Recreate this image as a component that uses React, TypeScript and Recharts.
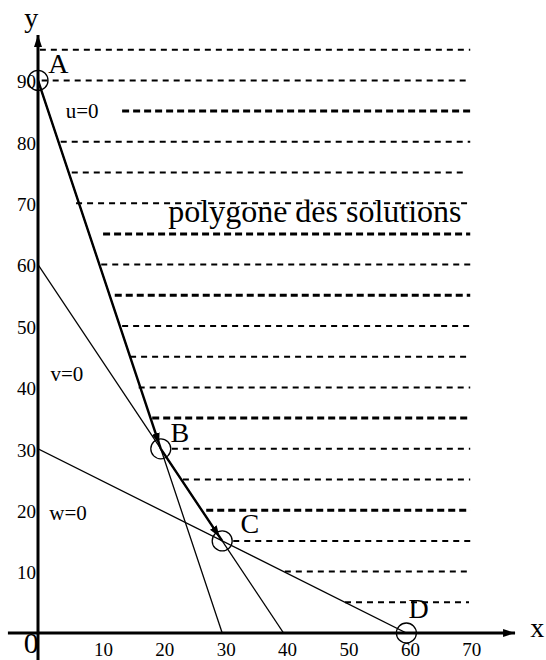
import { LineChart, Line, XAxis, YAxis, ReferenceLine, ReferenceDot } from 'recharts';

const FONT = '"Liberation Serif", "Times New Roman", serif';

const xTicks = [10, 20, 30, 40, 50, 60, 70];
const yTicks = [10, 20, 30, 40, 50, 60, 70, 80, 90];

// droites u=0, v=0, w=0 (intersections avec les axes)
const lineU = [{ x: 0, y: 90 }, { x: 30, y: 0 }];
const lineV = [{ x: 0, y: 60 }, { x: 40, y: 0 }];
const lineW = [{ x: 0, y: 30 }, { x: 60, y: 0 }];

// sommets du polygone
const vertices = [
  { name: 'A', x: 0, y: 90 },
  { name: 'B', x: 20, y: 30 },
  { name: 'C', x: 30, y: 15 },
  { name: 'D', x: 60, y: 0 },
];

// chemin parcouru A -> B -> C
const pathSteps = [
  [{ x: 0, y: 90 }, { x: 20, y: 30 }],
  [{ x: 20, y: 30 }, { x: 30, y: 15 }],
];

// hachures du polygone des solutions
const hatchY = [95, 90, 85, 80, 75, 70, 65, 60, 55, 50, 45, 40, 35, 30, 25, 20, 15, 10, 5];
const hatchFrom = [0.3, 0.6, 13.7, 3.7, 5.5, 6.2, 10.6, 10.3, 12.5, 13.7, 15, 16.4, 18.6, 21.8, 23.6, 27.4, 31.8, 40.2, 50];
const hatchTo = [70.4, 70.4, 70.4, 70.4, 69.2, 70.4, 70.4, 70.4, 70.4, 70.4, 70.4, 70.4, 70.4, 70.4, 70.4, 70.4, 70.4, 70.4, 70.2];
const hatchBold = [85, 65, 55, 35, 20];

// axes (avec flèches)
const xAxisRange = [-4.9, 77.7];
const yAxisRange = [-4.4, 97.4];

// textes
const labels = [
  { text: 'y', x: -1.1, y: 98.7, kind: 'axis' },
  { text: 'x', x: 81.3, y: -0.6, kind: 'axis' },
  { text: '0', x: -1.1, y: -3.3, kind: 'origin' },
  { text: 'A', x: 3.3, y: 91.2, kind: 'point' },
  { text: 'B', x: 23.1, y: 31.1, kind: 'point' },
  { text: 'C', x: 34.5, y: 16.3, kind: 'point' },
  { text: 'D', x: 62.0, y: 2.4, kind: 'point' },
  { text: 'u=0', x: 7.2, y: 83.9, kind: 'eq' },
  { text: 'v=0', x: 4.7, y: 41.0, kind: 'eq' },
  { text: 'w=0', x: 4.9, y: 18.4, kind: 'eq' },
  { text: 'polygone des solutions', x: 45.1, y: 66.9, kind: 'title' },
];

const fontSizes: Record<string, number> = { axis: 28, origin: 30, point: 28, eq: 21, title: 32 };

const W = 546;
const H = 660;
const X_MAX = 82.74;
const Y_MAX = 103.09;

export default function App() {
  return (
    <div style={{ position: 'absolute', left: 0, top: 0, width: W, height: H, background: '#fff' }}>
      <svg width={0} height={0} style={{ position: 'absolute' }}>
        <defs>
          <marker id="axisArrow" viewBox="0 0 12 8" refX="12" refY="4" markerWidth="12" markerHeight="8"
            markerUnits="userSpaceOnUse" orient="auto">
            <path d="M0,0 L12,4 L0,8 z" fill="#000" />
          </marker>
          <marker id="pathArrow" viewBox="0 0 11 8" refX="16" refY="4" markerWidth="11" markerHeight="8"
            markerUnits="userSpaceOnUse" orient="auto">
            <path d="M0,0 L11,4 L0,8 z" fill="#000" />
          </marker>
        </defs>
      </svg>
      <LineChart width={W} height={H} margin={{ top: 0, right: 0, bottom: 0, left: 0 }}>
        <XAxis type="number" dataKey="x" domain={[0, X_MAX]} allowDataOverflow ticks={xTicks} interval={0}
          height={27} axisLine={false} tickLine={false} tickSize={0} tickMargin={10}
          tick={{ fontFamily: FONT, fontSize: 19, fill: '#000', dx: 4 }} />
        <YAxis type="number" dataKey="y" domain={[0, Y_MAX]} allowDataOverflow ticks={yTicks} interval={0}
          width={38} axisLine={false} tickLine={false} tickSize={0} tickMargin={2}
          tick={{ fontFamily: FONT, fontSize: 19, fill: '#000', dy: 1 }} />

        {hatchY.map((y, i) => {
          const bold = hatchBold.includes(y);
          return (
            <ReferenceLine key={`h-${y}`} ifOverflow="visible"
              segment={[{ x: hatchFrom[i], y }, { x: hatchTo[i], y }]}
              stroke="#000" strokeWidth={bold ? 3 : 2} strokeDasharray={bold ? '7 4' : '6 5'} />
          );
        })}

        <Line data={lineU} dataKey="y" type="linear" stroke="#000" strokeWidth={1.3} dot={false} isAnimationActive={false} />
        <Line data={lineV} dataKey="y" type="linear" stroke="#000" strokeWidth={1.3} dot={false} isAnimationActive={false} />
        <Line data={lineW} dataKey="y" type="linear" stroke="#000" strokeWidth={1.3} dot={false} isAnimationActive={false} />

        {pathSteps.map((seg, i) => (
          <ReferenceLine key={`p-${i}`} ifOverflow="visible" segment={seg}
            stroke="#000" strokeWidth={2.4} markerEnd="url(#pathArrow)" />
        ))}

        <ReferenceLine ifOverflow="visible" segment={[{ x: xAxisRange[0], y: 0 }, { x: xAxisRange[1], y: 0 }]}
          stroke="#000" strokeWidth={3} markerEnd="url(#axisArrow)" />
        <ReferenceLine ifOverflow="visible" segment={[{ x: 0, y: yAxisRange[0] }, { x: 0, y: yAxisRange[1] }]}
          stroke="#000" strokeWidth={3} markerEnd="url(#axisArrow)" />

        {vertices.map((v) => (
          <ReferenceDot key={v.name} x={v.x} y={v.y} r={10} ifOverflow="visible"
            fill="none" stroke="#000" strokeWidth={1.3} />
        ))}

        {labels.map((l) => (
          <ReferenceDot key={l.text} x={l.x} y={l.y} r={1} ifOverflow="visible"
            shape={(p: any) => (
              <text x={p.cx} y={p.cy} textAnchor="middle" fill="#000"
                stroke={l.kind === 'title' ? '#fff' : 'none'} strokeWidth={3}
                style={{ paintOrder: 'stroke', fontFamily: FONT, fontSize: fontSizes[l.kind], fontWeight: 400 }}>
                {l.text}
              </text>
            )} />
        ))}
      </LineChart>
    </div>
  );
}
